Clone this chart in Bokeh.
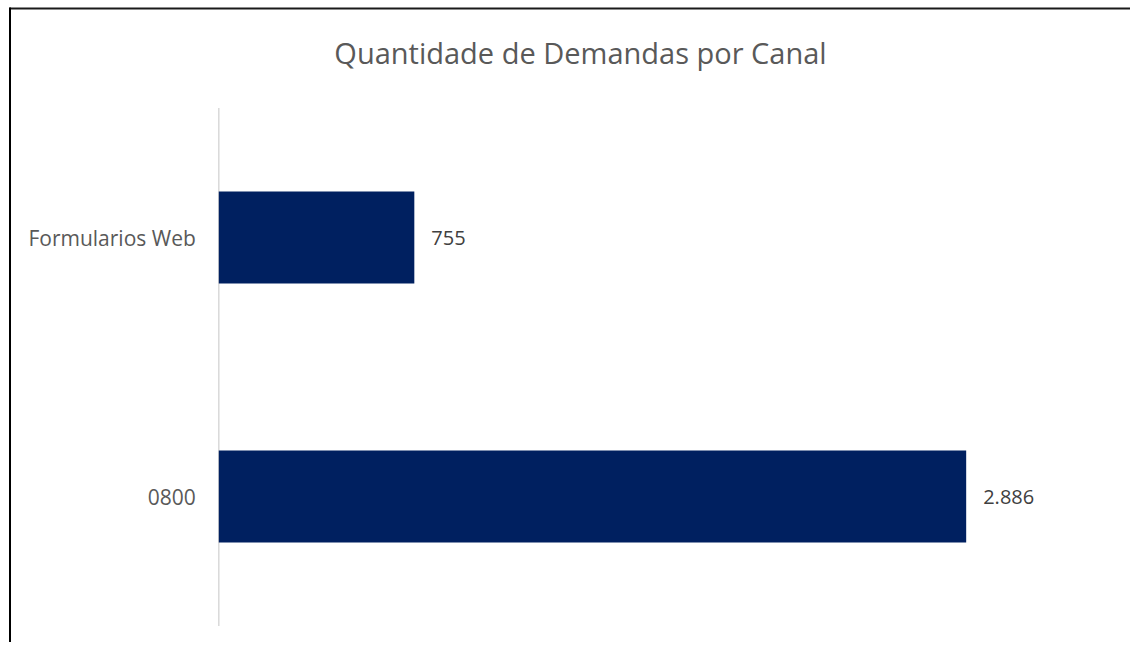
from bokeh.plotting import figure
from bokeh.models import Range1d, ColumnDataSource
from bokeh.core.properties import value
from bokeh.embed import file_html
from bokeh.resources import INLINE

# ---- data ----
categories = ["0800", "Formularios Web"]
counts = [2886, 755]
count_labels = ["2.886", "755"]
title_text = "Quantidade de Demandas por Canal"

# ---- layout constants (canvas pixels) ----
W, H = 1130, 642
X0_PX = 218.3          # canvas x of value 0
PX_PER_UNIT = 0.25897  # horizontal pixels per demand
BAND_PX = 259.0        # vertical pixels per category band
TOP_CENTER_PX = 237.0  # canvas y (from top) of the upper category centre
BAR_PX = 92.0

x_start = -X0_PX / PX_PER_UNIT
x_end = (W - X0_PX) / PX_PER_UNIT
y_top = (len(categories) - 1) + TOP_CENTER_PX / BAND_PX
y_bottom = y_top - H / BAND_PX


def px_x(px):
    return x_start + px / PX_PER_UNIT


def px_y(px):
    return y_top - px / BAND_PX


FONT = value("Open Sans")

p = figure(width=W, height=H, x_range=Range1d(x_start, x_end),
           y_range=Range1d(y_bottom, y_top), output_backend="svg",
           toolbar_location=None, min_border=0,
           x_axis_location=None, y_axis_location=None)
p.outline_line_color = None
p.background_fill_color = "white"
p.border_fill_color = "white"
for g in p.grid:
    g.visible = False

idx = list(range(len(categories)))
src = ColumnDataSource(dict(y=idx, cat=categories, n=counts, lab=count_labels))

# frame border (top and left, as in the reference)
p.segment(x0=[px_x(9)], y0=[px_y(8)], x1=[px_x(W + 5)], y1=[px_y(8)],
          line_color="#1a1a1a", line_width=2)
p.segment(x0=[px_x(9.5)], y0=[px_y(7)], x1=[px_x(9.5)], y1=[px_y(H + 5)],
          line_color="#000000", line_width=2)

# category axis line
p.segment(x0=[0], y0=[-0.5], x1=[0], y1=[len(categories) - 0.5],
          line_color="#d9d9d9", line_width=1.5)

# bars
p.hbar(y="y", left=0, right="n", height=BAR_PX / BAND_PX, source=src,
       fill_color="#002060", line_color=None)

# category labels
p.text(x=0, y="y", text="cat", source=src, x_offset=-23,
       text_align="right", text_baseline="middle", text_font=FONT,
       text_font_size="21px", text_color="#595959")

# value labels
p.text(x="n", y="y", text="lab", source=src, x_offset=17,
       text_align="left", text_baseline="middle", text_font=FONT,
       text_font_size="20px", text_color="#404040")

# title
p.text(x=[px_x(580)], y=[px_y(52)], text=[title_text], text_align="center",
       text_baseline="middle", text_font=FONT, text_font_size="29px",
       text_color="#595959")

open("out.html", "w").write(file_html(p, INLINE))
